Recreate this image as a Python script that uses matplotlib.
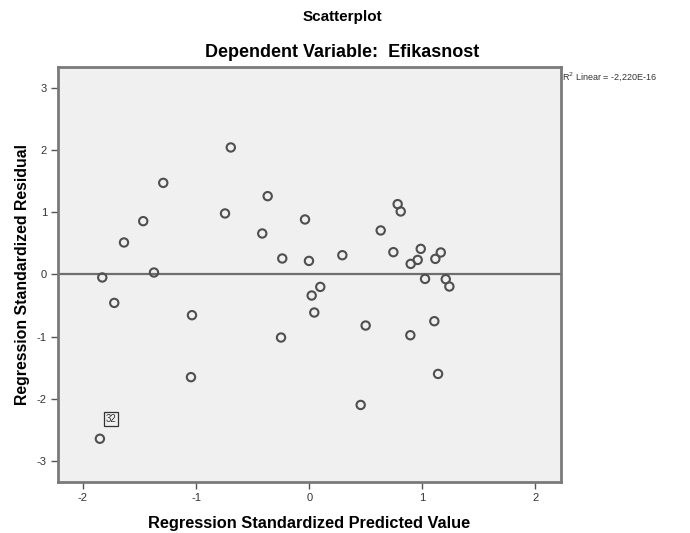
import matplotlib.pyplot as plt

plt.rcParams['font.family'] = ['Liberation Sans', 'DejaVu Sans']
plt.rcParams['axes.unicode_minus'] = False

# standardized predicted values (x) and standardized residuals (y)
pred = [-1.829, -1.723, -1.637, -1.467, -1.372, -1.290, -1.036, -1.045,
        -0.744, -0.693, -0.415, -0.367, -0.238, -0.249, -0.037, -0.002,
        0.022, 0.098, 0.045, 0.293, 0.499, 0.455, 0.632, 0.744,
        0.782, 0.809, 0.897, 0.959, 0.986, 1.024, 1.115, 1.163,
        0.894, 1.106, 1.139, 1.207, 1.239, -1.850]
resid = [-0.048, -0.458, 0.516, 0.860, 0.032, 1.477, -0.656, -1.655,
         0.984, 2.048, 0.661, 1.263, 0.258, -1.016, 0.887, 0.219,
         -0.339, -0.200, -0.613, 0.311, -0.823, -2.103, 0.710, 0.360,
         1.134, 1.016, 0.171, 0.235, 0.413, -0.071, 0.252, 0.355,
         -0.979, -0.753, -1.603, -0.076, -0.194, -2.648]
xticks = [-2, -1, 0, 1, 2]
yticks = [-3, -2, -1, 0, 1, 2, 3]
case_label = '32'

fig = plt.figure(figsize=(6.9, 5.33), dpi=100)
ax = fig.add_axes([0.0841, 0.0957, 0.729, 0.7786])
ax.set_facecolor('#f0f0f0')

ax.axhline(0, color='#6e6e6e', linewidth=1.6, zorder=1)
ax.scatter(pred, resid, s=36, facecolors='none', edgecolors='#4f4f4f',
           linewidths=1.5, zorder=3)

ax.annotate(case_label, (pred[-1], resid[-1]), xytext=(11, 20),
            textcoords='offset pixels', ha='center', va='center',
            fontsize=7, color='#333333',
            bbox=dict(boxstyle='square,pad=0.2', fc='#f0f0f0', ec='#333333', lw=0.9))

ax.set_xlim(-2.22, 2.226)
ax.set_ylim(-3.345, 3.345)
ax.set_xticks(xticks)
ax.set_yticks(yticks)
ax.tick_params(direction='out', length=5, width=1, color='#555555',
               labelsize=8, labelcolor='#333333', pad=3)
for s in ax.spines.values():
    s.set_color('#7a7a7a')
    s.set_linewidth(2)

ax.set_xlabel('Regression Standardized Predicted Value', fontsize=11.8,
              fontweight='bold', labelpad=9)
ax.set_ylabel('Regression Standardized Residual', fontsize=11.4,
              fontweight='bold', labelpad=5)

fig.text(0.496, 0.969, 'Scatterplot', ha='center', va='center',
         fontsize=11, fontweight='bold')
fig.text(0.496, 0.902, 'Dependent Variable:  Efikasnost', ha='center',
         va='center', fontsize=13, fontweight='bold')
fig.text(0.815, 0.857, 'R$^2$ Linear = -2,220E-16', ha='left', va='center',
         fontsize=6.5, color='#333333')

fig.savefig('out.png', dpi=100)
